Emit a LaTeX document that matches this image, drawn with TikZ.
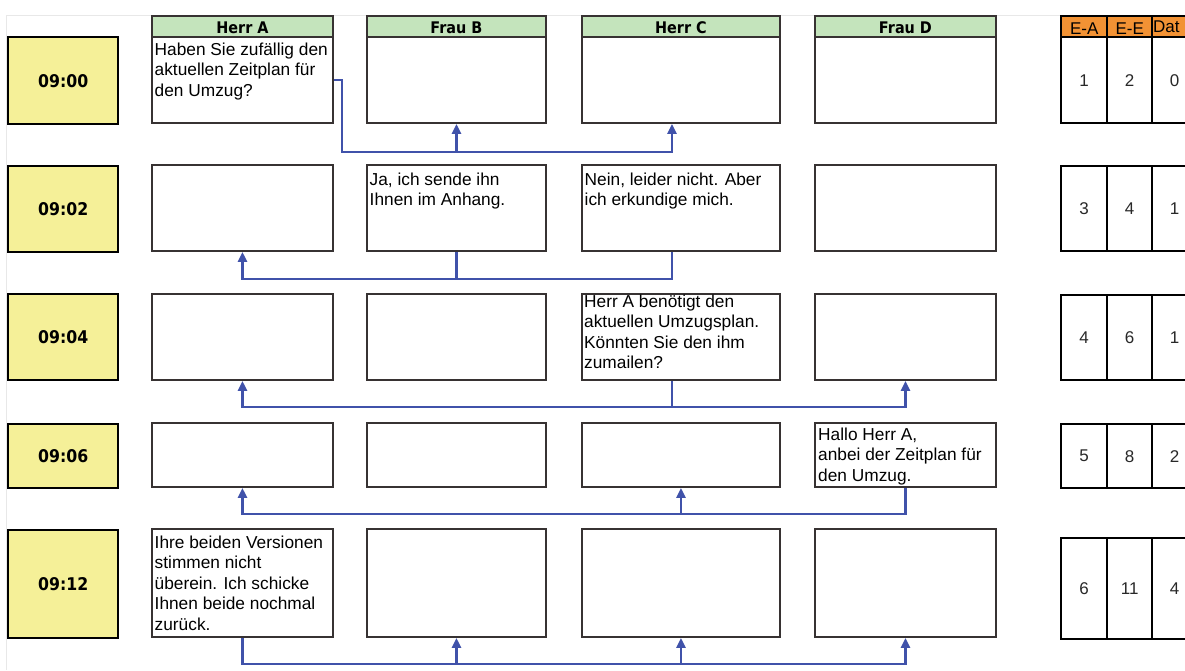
\documentclass[tikz,border=0pt]{standalone}
\usepackage{fontspec}
\setmainfont{Liberation Sans}
\newfontfamily\headfont[FakeStretch=0.9]{DejaVu Sans}
\usetikzlibrary{arrows.meta}
\definecolor{hdrgreen}{RGB}{196,228,188}
\definecolor{timeyellow}{RGB}{245,240,152}
\definecolor{taborange}{RGB}{242,146,52}
\definecolor{connblue}{RGB}{64,82,170}
\definecolor{boxgray}{RGB}{55,50,50}
\definecolor{numgray}{RGB}{40,40,40}
\begin{document}
\begin{tikzpicture}[x=1pt,y=-1pt,
  msgbox/.style={draw=boxgray,line width=1.9pt,fill=white,inner sep=0pt,anchor=north west},
  msgtext/.style={inner sep=0pt,anchor=base west,text=black,font=\fontsize{17.3}{20.5}\selectfont},
  hdrbox/.style={draw=boxgray,line width=1.9pt,fill=hdrgreen,inner sep=0pt,anchor=north west,
    minimum height=21pt,text height=15pt,text depth=0pt,
    font=\headfont\bfseries\fontsize{16}{18}\selectfont},
  timebox/.style={draw=black,line width=2.4pt,fill=timeyellow,inner sep=0pt,anchor=north west,
    minimum width=110pt,font=\headfont\bfseries\fontsize{17.5}{19}\selectfont},
  tabhdr/.style={draw=black,line width=2.4pt,fill=taborange,inner sep=0pt,anchor=north west,
    minimum height=21pt,text height=15.5pt,text depth=0pt,font=\fontsize{17}{19}\selectfont},
  tabcell/.style={draw=black,line width=2.4pt,fill=white,inner sep=0pt,anchor=north west,
    text=numgray,font=\fontsize{17}{19}\selectfont},
  conn/.style={draw=connblue,line width=2.9pt},
  arr/.style={conn,-{Triangle[width=9pt,length=10pt]}}]
\useasboundingbox (0,0) rectangle (1185,670);
\clip (0,0) rectangle (1185,670);
\fill[white] (0,0) rectangle (1185,670);
\draw[gray!18,line width=1pt] (6,670) -- (6,15) -- (1185,15);

% headers
\node[hdrbox,minimum width=181pt] (ha) at (151,15) {Herr A};
\node[hdrbox,minimum width=179pt] (hb) at (366,15) {Frau B};
\node[hdrbox,minimum width=198pt] (hc) at (581,15) {Herr C};
\node[hdrbox,minimum width=181pt] (hd) at (814,15) {Frau D};

% time boxes
\node[timebox,minimum height=87pt] (t1) at (7,36) {09:00};
\node[timebox,minimum height=86pt] (t2) at (7,165) {09:02};
\node[timebox,minimum height=86pt] (t3) at (7,293) {09:04};
\node[timebox,minimum height=64pt] (t4) at (7,423) {09:06};
\node[timebox,minimum height=108pt] (t5) at (7,529) {09:12};

% message boxes: row 1
\node[msgbox,minimum width=181pt,minimum height=86pt] (a1) at (151,36) {};
\node[msgbox,minimum width=179pt,minimum height=86pt] (b1) at (366,36) {};
\node[msgbox,minimum width=198pt,minimum height=86pt] (c1) at (581,36) {};
\node[msgbox,minimum width=181pt,minimum height=86pt] (d1) at (814,36) {};
% row 2
\node[msgbox,minimum width=181pt,minimum height=86pt] (a2) at (151,164) {};
\node[msgbox,minimum width=179pt,minimum height=86pt] (b2) at (366,164) {};
\node[msgbox,minimum width=198pt,minimum height=86pt] (c2) at (581,164) {};
\node[msgbox,minimum width=181pt,minimum height=86pt] (d2) at (814,164) {};
% row 3
\node[msgbox,minimum width=181pt,minimum height=86pt] (a3) at (151,293) {};
\node[msgbox,minimum width=179pt,minimum height=86pt] (b3) at (366,293) {};
\node[msgbox,minimum width=198pt,minimum height=86pt] (c3) at (581,293) {};
\node[msgbox,minimum width=181pt,minimum height=86pt] (d3) at (814,293) {};
% row 4
\node[msgbox,minimum width=181pt,minimum height=64pt] (a4) at (151,422) {};
\node[msgbox,minimum width=179pt,minimum height=64pt] (b4) at (366,422) {};
\node[msgbox,minimum width=198pt,minimum height=64pt] (c4) at (581,422) {};
\node[msgbox,minimum width=181pt,minimum height=64pt] (d4) at (814,422) {};
% row 5
\node[msgbox,minimum width=181pt,minimum height=108pt] (a5) at (151,528) {};
\node[msgbox,minimum width=179pt,minimum height=108pt] (b5) at (366,528) {};
\node[msgbox,minimum width=198pt,minimum height=108pt] (c5) at (581,528) {};
\node[msgbox,minimum width=181pt,minimum height=108pt] (d5) at (814,528) {};

% texts
\node[msgtext] (ta1) at ([shift={(3.5,19)}]a1.north west)
  {\parbox[t]{180pt}{Haben Sie zufällig den\\aktuellen Zeitplan für\\den Umzug?}};
\node[msgtext] (tb2) at ([shift={(3.5,21)}]b2.north west)
  {\parbox[t]{178pt}{Ja, ich sende ihn\\Ihnen im Anhang.}};
\node[msgtext] (tc2) at ([shift={(3.5,21)}]c2.north west)
  {\parbox[t]{196pt}{Nein, leider nicht. Aber\\ich erkundige mich.}};
\node[msgtext] (tc3) at ([shift={(3,14)}]c3.north west)
  {\parbox[t]{196pt}{Herr A benötigt den\\aktuellen Umzugsplan.\\Könnten Sie den ihm\\zumailen?}};
\node[msgtext] (td4) at ([shift={(4,18)}]d4.north west)
  {\parbox[t]{180pt}{Hallo Herr A,\\anbei der Zeitplan für\\den Umzug.}};
\node[msgtext] (ta5) at ([shift={(3.5,20)}]a5.north west)
  {\parbox[t]{180pt}{Ihre beiden Versionen\\stimmen nicht\\überein. Ich schicke\\Ihnen beide nochmal\\zurück.}};

% right table
\node[tabhdr,minimum width=46pt] (hea) at (1060,15) {E-A};
\node[tabhdr,minimum width=45pt] (hee) at (1106,15) {E-E};
\node[tabhdr,minimum width=45pt] (hdt) at (1151,15) {};
\node[inner sep=0pt,anchor=base west,font=\fontsize{17}{19}\selectfont] (hdtt) at (1153,32.5) {Dat};

\node[tabcell,minimum width=46pt,minimum height=86pt] (ea1) at (1060,36) {1};
\node[tabcell,minimum width=45pt,minimum height=86pt] (ee1) at (1106,36) {2};
\node[tabcell,minimum width=45pt,minimum height=86pt] (dt1) at (1151,36) {0};

\node[tabcell,minimum width=46pt,minimum height=85pt] (ea2) at (1060,165) {3};
\node[tabcell,minimum width=45pt,minimum height=85pt] (ee2) at (1106,165) {4};
\node[tabcell,minimum width=45pt,minimum height=85pt] (dt2) at (1151,165) {1};

\node[tabcell,minimum width=46pt,minimum height=85pt] (ea3) at (1060,294) {4};
\node[tabcell,minimum width=45pt,minimum height=85pt] (ee3) at (1106,294) {6};
\node[tabcell,minimum width=45pt,minimum height=85pt] (dt3) at (1151,294) {1};

\node[tabcell,minimum width=46pt,minimum height=64pt] (ea4) at (1060,423) {5};
\node[tabcell,minimum width=45pt,minimum height=64pt] (ee4) at (1106,423) {8};
\node[tabcell,minimum width=45pt,minimum height=64pt] (dt4) at (1151,423) {2};

\node[tabcell,minimum width=46pt,minimum height=101pt] (ea5) at (1060,537) {6};
\node[tabcell,minimum width=45pt,minimum height=101pt] (ee5) at (1106,537) {11};
\node[tabcell,minimum width=45pt,minimum height=101pt] (dt5) at (1151,537) {4};

% connector levels
\coordinate (j1) at (342,152);
\coordinate (h2) at (0,279);
\coordinate (h3) at (0,407);
\coordinate (h4) at (0,514);
\coordinate (h5) at (0,664);
\coordinate (c1p) at ([xshift=-9pt]c1.south);
\coordinate (c2p) at ([xshift=-9pt]c2.south);
\coordinate (c3p) at ([xshift=-9pt]c3.south);

% row 1
\draw[arr] (a1.east) -| (j1) -| (c1p);
\draw[arr] (b1.south |- j1) -- (b1.south);
% row 2
\draw[arr] (c2p) -- (c2p |- h2) -| (a2.south);
\draw[conn] (b2.south) -- (b2.south |- h2);
% row 3
\draw[arr] (c3p) -- (c3p |- h3) -| (a3.south);
\draw[arr] (c3p |- h3) -| (d3.south);
% row 4
\draw[arr] (d4.south) -- (d4.south |- h4) -| (a4.south);
\draw[arr] (c4.south |- h4) -- (c4.south);
% row 5
\draw[arr] (a5.south) -- (a5.south |- h5) -| (d5.south);
\draw[arr] (b5.south |- h5) -- (b5.south);
\draw[arr] (c5.south |- h5) -- (c5.south);
\end{tikzpicture}
\end{document}
